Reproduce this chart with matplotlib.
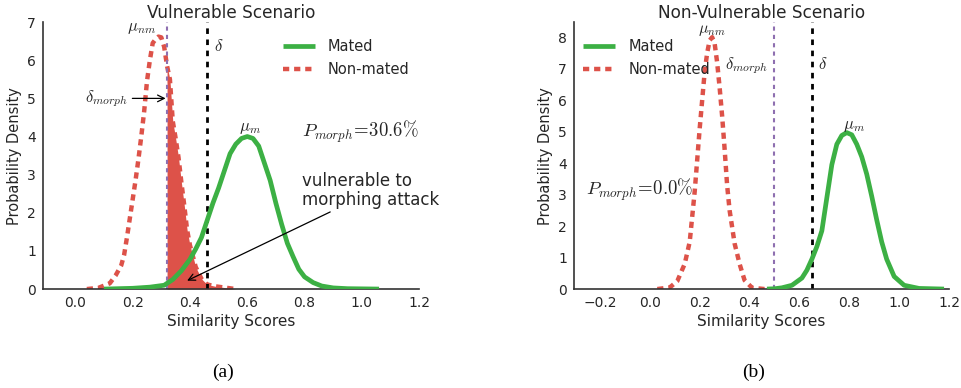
import numpy as np
import matplotlib
matplotlib.use("Agg")
import matplotlib.pyplot as plt

plt.rcParams['font.family'] = ['DejaVu Sans']
plt.rcParams['mathtext.fontset'] = 'cm'
plt.rcParams['text.color'] = '#262626'
plt.rcParams['axes.labelcolor'] = '#262626'
plt.rcParams['xtick.color'] = '#262626'
plt.rcParams['ytick.color'] = '#262626'

# ---- (a) vulnerable scenario ----
a_nm_x = [0.04, 0.08, 0.12, 0.14, 0.16, 0.17, 0.18, 0.19, 0.20, 0.21, 0.22, 0.23, 0.24, 0.25,
          0.26, 0.27, 0.28, 0.29, 0.30, 0.31, 0.32, 0.33, 0.34, 0.35, 0.36, 0.37, 0.38, 0.39,
          0.40, 0.42, 0.44, 0.46, 0.49, 0.52, 0.56]
a_nm_y = [0.0, 0.03, 0.15, 0.35, 0.62, 0.89, 1.35, 1.85, 2.35, 2.85, 3.4, 4.0, 4.65, 5.45,
          6.0, 6.45, 6.55, 6.62, 6.6, 6.35, 5.85, 5.5, 4.4, 3.95, 3.45, 2.8, 2.2, 1.55,
          1.15, 0.58, 0.27, 0.12, 0.07, 0.04, 0.0]
a_m_x = [0.10, 0.20, 0.26, 0.31, 0.34, 0.37, 0.40, 0.42, 0.44, 0.46, 0.48, 0.50, 0.52, 0.54,
         0.56, 0.58, 0.60, 0.62, 0.64, 0.66, 0.68, 0.70, 0.72, 0.74, 0.76, 0.78, 0.80, 0.83,
         0.86, 0.90, 0.95, 1.06]
a_m_y = [0.0, 0.02, 0.05, 0.1, 0.25, 0.48, 0.78, 1.05, 1.35, 1.8, 2.25, 2.65, 3.1, 3.55,
         3.8, 3.95, 4.0, 3.95, 3.75, 3.3, 2.85, 2.25, 1.7, 1.2, 0.85, 0.52, 0.32, 0.17,
         0.08, 0.03, 0.01, 0.0]
a_delta_morph = 0.32
a_delta = 0.46
a_pmorph = 30.6

# ---- (b) non-vulnerable scenario ----
b_nm_x = [0.03, 0.08, 0.11, 0.14, 0.16, 0.17, 0.18, 0.19, 0.20, 0.21, 0.22, 0.23, 0.24, 0.25,
          0.26, 0.27, 0.28, 0.29, 0.30, 0.31, 0.32, 0.34, 0.36, 0.38, 0.41, 0.46]
b_nm_y = [0.0, 0.05, 0.25, 0.8, 1.5, 2.3, 3.1, 4.1, 5.1, 6.0, 6.9, 7.5, 7.9, 8.0,
          7.8, 7.2, 6.4, 5.5, 4.45, 3.3, 2.5, 1.45, 0.8, 0.28, 0.04, 0.0]
b_m_x = [0.47, 0.50, 0.53, 0.57, 0.61, 0.63, 0.65, 0.67, 0.69, 0.71, 0.73, 0.75, 0.77, 0.79,
         0.81, 0.83, 0.85, 0.87, 0.89, 0.91, 0.93, 0.95, 0.98, 1.02, 1.08, 1.18]
b_m_y = [0.0, 0.01, 0.04, 0.12, 0.35, 0.6, 0.95, 1.35, 1.85, 2.9, 3.95, 4.6, 4.88, 4.97,
         4.9, 4.6, 4.2, 3.65, 2.95, 2.2, 1.5, 0.95, 0.4, 0.12, 0.02, 0.0]
b_delta_morph = 0.50
b_delta = 0.65
b_pmorph = 0.0

green = '#3cb044'
red = '#dd5249'
purple = '#8e6fb0'
dotted = (0, (1.4, 1.1))

fig = plt.figure(figsize=(9.62, 3.88), dpi=100)
ax1 = fig.add_axes([0.0447, 0.255, 0.391, 0.688])
ax2 = fig.add_axes([0.5967, 0.255, 0.3898, 0.688])


def style(ax):
    for s in ['top', 'right']:
        ax.spines[s].set_visible(False)
    for s in ['left', 'bottom']:
        ax.spines[s].set_color('#333333')
        ax.spines[s].set_linewidth(1.2)
    ax.tick_params(length=0, labelsize=10, pad=5)
    ax.set_xlabel('Similarity Scores', fontsize=11, labelpad=3)
    ax.set_ylabel('Probability Density', fontsize=10.5, labelpad=4)


# panel a
ax1.plot(a_m_x, a_m_y, color=green, lw=3.4, label='Mated', zorder=3, solid_capstyle='butt')
ax1.plot(a_nm_x, a_nm_y, color=red, lw=3.2, ls=dotted, label='Non-mated', zorder=2)
nx = np.array(a_nm_x)
ny = np.array(a_nm_y)
m = nx >= a_delta_morph
ax1.fill_between(nx[m], 0, ny[m], color=red, lw=0, zorder=1)
ax1.axvline(a_delta_morph, color=purple, lw=1.5, ls=(0, (2, 2)), zorder=2.5)
ax1.axvline(a_delta, color='black', lw=2, ls=(0, (2, 2)), zorder=2.5)
ax1.set_xlim(-0.113, 1.19)
ax1.set_ylim(0, 7)
ax1.set_xticks([0.0, 0.2, 0.4, 0.6, 0.8, 1.0, 1.2])
ax1.set_yticks(range(8))
ax1.set_title('Vulnerable Scenario', fontsize=12.2, pad=3)
ax1.text(0.18, 6.78, r'$\mu_{nm}$', fontsize=12)
ax1.text(0.485, 6.25, r'$\delta$', fontsize=12)
ax1.text(0.57, 4.15, r'$\mu_m$', fontsize=12)
ax1.text(0.79, 4.0, r'$P_{morph}\!=\!%.1f\%%$' % a_pmorph, fontsize=13.5)
ax1.annotate(r'$\delta_{morph}$', xy=(a_delta_morph - 0.005, 5.0), xytext=(0.035, 5.0),
             fontsize=12, va='center',
             arrowprops=dict(arrowstyle='->', color='black', lw=0.9, shrinkA=1, shrinkB=0))
ax1.annotate('vulnerable to\nmorphing attack', xy=(0.39, 0.22), xytext=(0.79, 2.2),
             fontsize=12, linespacing=1.05,
             arrowprops=dict(arrowstyle='->', color='black', lw=0.9, shrinkA=0, shrinkB=0,
                             relpos=(0.25, 0.0)))
ax1.legend(loc='upper right', bbox_to_anchor=(1.01, 0.985), frameon=False, fontsize=10.5,
           handlelength=2.2, handletextpad=0.9, labelspacing=0.55)
style(ax1)

# panel b
ax2.plot(b_m_x, b_m_y, color=green, lw=3.4, label='Mated', zorder=3, solid_capstyle='butt')
ax2.plot(b_nm_x, b_nm_y, color=red, lw=3.2, ls=dotted, label='Non-mated', zorder=2)
ax2.axvline(b_delta_morph, color=purple, lw=1.5, ls=(0, (2, 2)), zorder=2.5)
ax2.axvline(b_delta, color='black', lw=2, ls=(0, (2, 2)), zorder=2.5)
ax2.set_xlim(-0.304, 1.2)
ax2.set_ylim(0, 8.48)
ax2.set_xticks([-0.2, 0.0, 0.2, 0.4, 0.6, 0.8, 1.0, 1.2])
ax2.set_yticks(range(9))
ax2.set_title('Non-Vulnerable Scenario', fontsize=12.2, pad=3)
ax2.text(0.25, 8.12, r'$\mu_{nm}$', fontsize=11.5, ha='center')
ax2.text(0.3, 7.0, r'$\delta_{morph}$', fontsize=12)
ax2.text(0.675, 7.0, r'$\delta$', fontsize=12)
ax2.text(0.82, 5.1, r'$\mu_m$', fontsize=12, ha='center')
ax2.text(-0.255, 3.0, r'$P_{morph}\!=\!%.1f\%%$' % b_pmorph, fontsize=13.5)
ax2.legend(loc='upper left', bbox_to_anchor=(-0.01, 0.985), frameon=False, fontsize=10.5,
           handlelength=2.2, handletextpad=0.9, labelspacing=0.55)
style(ax2)

fig.text(0.232, 0.041, '(a)', fontsize=14, family='Liberation Serif', ha='center', va='center',
         color='black')
fig.text(0.783, 0.041, '(b)', fontsize=14, family='Liberation Serif', ha='center', va='center',
         color='black')

fig.savefig('out.png', dpi=100)
